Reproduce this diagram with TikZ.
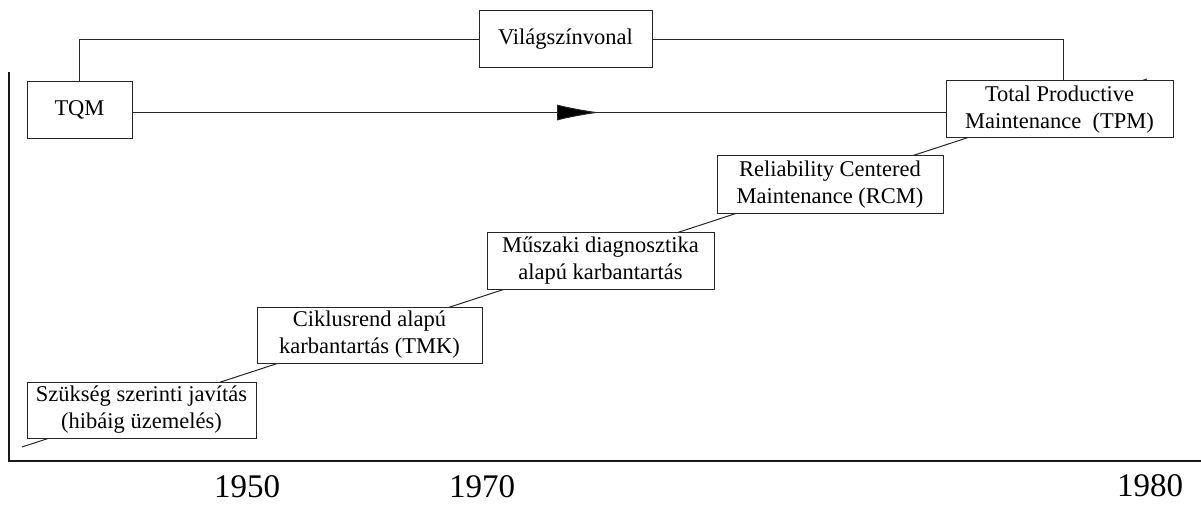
\documentclass[tikz,border=0pt]{standalone}
\usepackage{fontspec}
\setmainfont{Liberation Serif}
\usetikzlibrary{arrows.meta,calc}
\begin{document}
\begin{tikzpicture}[x=1pt,y=-1pt,
  box/.style={draw=black!85,line width=1pt,fill=white,inner sep=0pt,align=center,
    font=\fontsize{22.5}{27}\selectfont,minimum height=57pt},
  conn/.style={draw=black!85,line width=1pt},
  axis/.style={draw=black!90,line width=1.4pt},
  year/.style={font=\fontsize{33}{36}\selectfont,inner sep=0pt}]
\useasboundingbox (0,0) rectangle (1201,505);
% axes
\coordinate (ytop) at (9,72);
\coordinate (orig) at (9,461);
\coordinate (xend) at (1201,461);
\draw[axis] (ytop) -- (orig) -- (xend);
% diagonal staircase line (behind boxes)
\coordinate (dstart) at (22,447);
\coordinate (dend) at (1147,79);
\draw[conn] (dstart) -- (dend);
% boxes
\node[box,minimum width=105pt] (tqm) at (79.5,110) {TQM};
\node[box,minimum width=173pt] (vilag) at (565.5,39.5) {Világszínvonal};
\node[box,minimum width=227pt] (tpm) at (1059.5,109.5) {Total Productive\\Maintenance\ \ (TPM)};
\node[box,minimum width=226pt] (rcm) at (830,184.5) {Reliability Centered\\Maintenance (RCM)};
\node[box,minimum width=227pt] (musz) at (600.5,260.5) {Műszaki diagnosztika\\alapú karbantartás};
\node[box,minimum width=225pt,minimum height=56pt] (cikl) at (369.5,335) {Ciklusrend alapú\\karbantartás (TMK)};
\node[box,minimum width=229pt,minimum height=56pt] (szuk) at (141.5,410) {Szükség szerinti javítás\\(hibáig üzemelés)};
% connectors
\draw[conn] (tqm.north) |- (vilag.west);
\draw[conn] (vilag.east) -| ($(tpm.north)+(3.5,0)$);
\draw[conn] ($(tqm.east)+(0,2.5)$) -- ($(tpm.west)+(0,3)$);
\coordinate (atip) at (600,112.5);
\draw[conn,-{Latex[length=43pt,width=16pt,fill=black]}] ($(tqm.east)+(0,2.5)$) -- (atip);
% years
\node[year] (y1950) at (247,487) {1950};
\node[year] (y1970) at (482,487) {1970};
\node[year] (y1980) at (1150,486) {1980};
\end{tikzpicture}
\end{document}
